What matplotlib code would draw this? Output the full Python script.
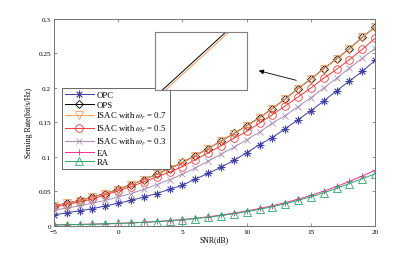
import numpy as np
import matplotlib
matplotlib.use("Agg")
import matplotlib.pyplot as plt

plt.rcParams['font.family'] = ['Liberation Serif', 'DejaVu Serif']
plt.rcParams['mathtext.fontset'] = 'stix'

# DATA
snr = list(range(-5, 21))
opc = [0.016, 0.019, 0.022, 0.025, 0.029, 0.033, 0.037, 0.042, 0.047, 0.053,
       0.059, 0.068, 0.076, 0.085, 0.095, 0.106, 0.118, 0.128, 0.141, 0.154,
       0.167, 0.181, 0.196, 0.210, 0.224, 0.240]
ops = [0.029, 0.033, 0.037, 0.042, 0.047, 0.053, 0.060, 0.067, 0.075, 0.083,
       0.092, 0.102, 0.112, 0.123, 0.134, 0.145, 0.157, 0.170, 0.184, 0.199,
       0.213, 0.228, 0.242, 0.257, 0.2734, 0.2884]
isac07 = [0.0288, 0.0328, 0.0368, 0.0418, 0.0468, 0.0528, 0.0598, 0.0668, 0.0748, 0.0828,
          0.0918, 0.1018, 0.1118, 0.1228, 0.1338, 0.1448, 0.1568, 0.1698, 0.1838, 0.1988,
          0.2128, 0.2278, 0.2418, 0.2568, 0.2733, 0.2883]
isac05 = [0.027, 0.031, 0.035, 0.039, 0.045, 0.051, 0.057, 0.064, 0.071, 0.078,
          0.086, 0.096, 0.106, 0.116, 0.127, 0.137, 0.149, 0.161, 0.174, 0.187,
          0.200, 0.214, 0.227, 0.241, 0.256, 0.272]
isac03 = [0.023, 0.026, 0.029, 0.033, 0.037, 0.042, 0.047, 0.053, 0.060, 0.067,
          0.075, 0.084, 0.094, 0.104, 0.114, 0.125, 0.136, 0.149, 0.160, 0.173,
          0.186, 0.200, 0.214, 0.229, 0.243, 0.2575]
ea = [0.0016, 0.0019, 0.0022, 0.0026, 0.0031, 0.0037, 0.0045, 0.0054, 0.0065, 0.0078,
      0.0093, 0.0111, 0.0132, 0.0157, 0.0185, 0.0217, 0.0253, 0.0293, 0.0338, 0.0388,
      0.0443, 0.0504, 0.0572, 0.0646, 0.0724, 0.0805]
ra = [0.0015, 0.0018, 0.0021, 0.0025, 0.0030, 0.0036, 0.0043, 0.0052, 0.0062, 0.0074,
      0.0089, 0.0106, 0.0126, 0.0150, 0.0177, 0.0207, 0.0241, 0.0279, 0.0322, 0.0370,
      0.0423, 0.0480, 0.0545, 0.0615, 0.0685, 0.0755]

xticks = [-5, 0, 5, 10, 15, 20]
yticks = [0, 0.05, 0.1, 0.15, 0.2, 0.25, 0.3]
ytick_labels = ['0', '0.05', '0.1', '0.15', '0.2', '0.25', '0.3']

# STYLES
series = [
    (opc, 'OPC', '#3f3fa6', (8, 2, 0), 'none'),
    (ops, 'OPS', 'black', 'D', 'none'),
    (isac07, r'ISAC with $\omega_r$ = 0.7', '#f59a5a', 'v', 'none'),
    (isac05, r'ISAC with $\omega_r$ = 0.5', '#f03c3c', 'o', 'none'),
    (isac03, r'ISAC with $\omega_r$ = 0.3', '#a98fb0', 'x', 'none'),
    (ea, 'EA', '#f0309a', '+', 'none'),
    (ra, 'RA', '#2aa866', '^', 'none'),
]

fig = plt.figure(figsize=(4.15, 2.55), dpi=100)
ax = fig.add_axes([0.130, 0.110, 0.774, 0.812])

for vals, lab, col, mk, fc in series:
    ms = 4.2 if mk == 'D' else 5.5
    if mk in ('x', '+'):
        ms = 4.5
    ax.plot(snr, vals, color=col, lw=0.7, marker=mk, ms=ms,
            mfc=fc, mew=0.6, label=lab)

ax.set_xlim(-5, 20)
ax.set_ylim(0, 0.3)
ax.set_xticks(xticks)
ax.set_yticks(yticks)
ax.set_yticklabels(ytick_labels)
ax.tick_params(direction='in', top=True, right=True, labelsize=5.2,
               length=2.5, width=0.5, color='0.4', pad=2)
for s in ax.spines.values():
    s.set_color('0.45')
    s.set_linewidth(0.7)
ax.set_xlabel('SNR(dB)', fontsize=5.6, labelpad=1)
ax.set_ylabel('Sensing Rate(bit/s/Hz)', fontsize=5.6, labelpad=4)

leg = ax.legend(loc='upper left', bbox_to_anchor=(0.026, 0.665), fontsize=6.3,
                handlelength=3.3, labelspacing=0.18, borderpad=0.3,
                handletextpad=0.3, borderaxespad=0, fancybox=False,
                framealpha=1)
leg.get_frame().set_edgecolor('0.3')
leg.get_frame().set_linewidth(0.6)

# INSET (zoom near SNR 19.5)
ins = fig.add_axes([0.3735, 0.643, 0.2217, 0.2275])
ins.plot(snr, ops, color='black', lw=0.7)
ins.plot(snr, isac07, color='#f59a5a', lw=0.7)
ins.set_xlim(19.4, 19.6)
ins.set_ylim(0.27964, 0.28171)
ins.set_xticks([])
ins.set_yticks([])
for s in ins.spines.values():
    s.set_color('0.5')
    s.set_linewidth(0.8)

fig.patches.append(matplotlib.patches.FancyArrowPatch(
    (0.7205, 0.6784), (0.617, 0.7216), transform=fig.transFigure,
    arrowstyle='-|>', mutation_scale=7, color='black', lw=0.6))

fig.savefig('out.png', dpi=100)
